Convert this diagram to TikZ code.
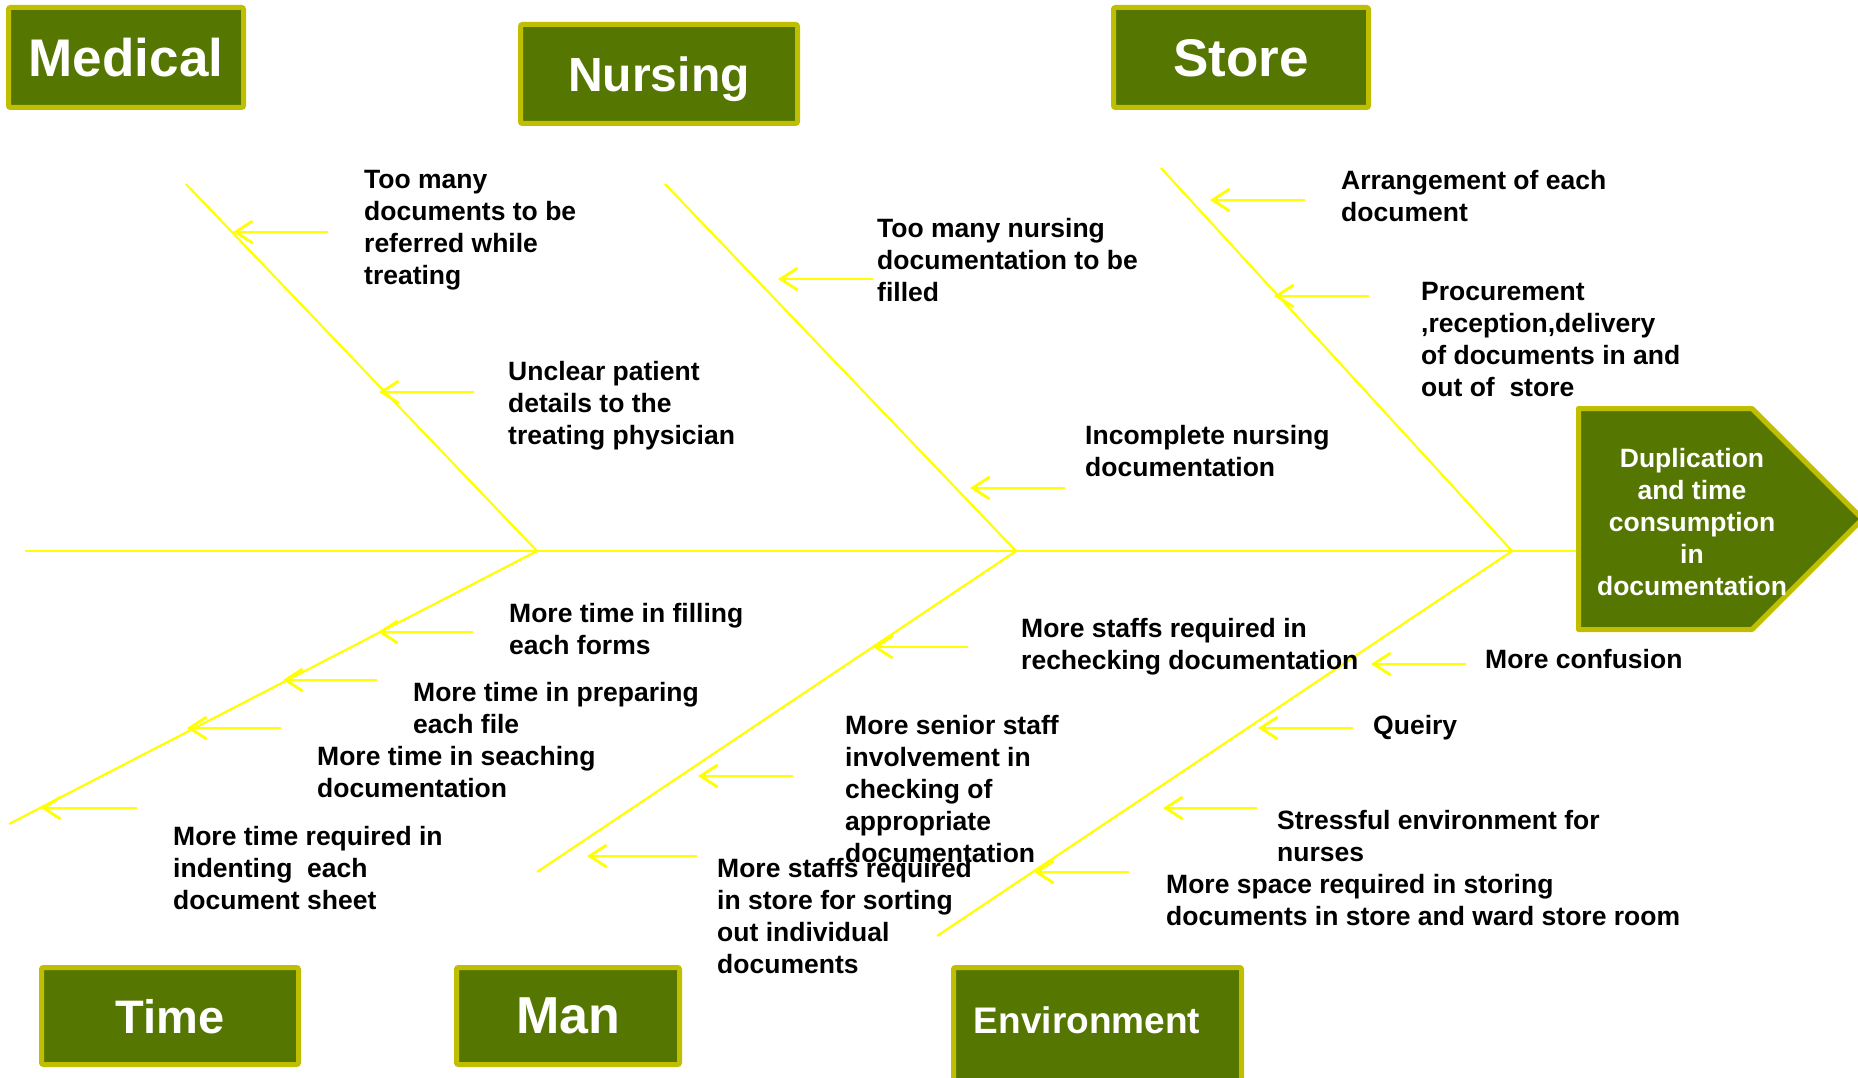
\documentclass[tikz,border=0pt]{standalone}
\usepackage{fontspec}
\setmainfont{Liberation Sans}
\usetikzlibrary{arrows.meta}
\definecolor{boxfill}{RGB}{85,118,0}
\definecolor{boxedge}{RGB}{192,190,0}
\definecolor{fishyellow}{RGB}{255,255,0}
\tikzset{
  catbox/.style={draw=boxedge, fill=boxfill, line width=5pt, rounded corners=2pt,
    text=white, inner sep=0pt, text depth=0pt},
  bone/.style={draw=fishyellow, line width=2.2pt},
  cause/.style={draw=fishyellow, line width=2.8pt, -{Straight Barb[length=17pt,width=22pt]}},
  lbl/.style={anchor=north west, align=left, inner sep=0pt,
    font=\bfseries\fontsize{26.5}{32}\selectfont},
}
\begin{document}
\begin{tikzpicture}[x=1pt, y=-1pt]
\clip (0,0) rectangle (1858,1078);
\fill[white] (0,0) rectangle (1858,1078);

% category boxes
\node[catbox, minimum width=235pt, minimum height=100pt, font=\bfseries\fontsize{53}{60}\selectfont] (medical) at (126,57.5) {Medical};
\node[catbox, minimum width=277pt, minimum height=99pt, font=\bfseries\fontsize{48}{56}\selectfont] (nursing) at (659,74) {Nursing};
\node[catbox, minimum width=255pt, minimum height=100pt, font=\bfseries\fontsize{53}{60}\selectfont] (store) at (1241,57.5) {Store};
\node[catbox, minimum width=257pt, minimum height=97pt, font=\bfseries\fontsize{47}{54}\selectfont] (time) at (170,1016) {Time};
\node[catbox, minimum width=223pt, minimum height=97pt, font=\bfseries\fontsize{52}{60}\selectfont] (man) at (568,1016) {Man};
\node[catbox, minimum width=288pt, minimum height=125pt] (env) at (1097.5,1030) {};
\node[text=white, inner sep=0pt, text depth=0pt, font=\bfseries\fontsize{37}{44}\selectfont] (envtitle) at (1087,1020) {Environment};

% effect (head)
\coordinate (hA) at (1578.5,408.5);
\coordinate (hB) at (1752,408.5);
\coordinate (hC) at (1862.5,519);
\coordinate (hD) at (1752,629.5);
\coordinate (hE) at (1578.5,629.5);
\filldraw[draw=boxedge, fill=boxfill, line width=5pt, line join=round] (hA) -- (hB) -- (hC) -- (hD) -- (hE) -- cycle;
\node[anchor=north, align=center, inner sep=0pt, text=white, font=\bfseries\fontsize{26.5}{32}\selectfont] (head) at (1692,448) {Duplication\\and time\\consumption\\in\\documentation};

% spine
\coordinate (tail) at (25,551);
\coordinate (neck) at (1576,551);
\draw[bone] (tail) -- (neck);

% bone junctions on the spine
\coordinate (j1) at (537,551);
\coordinate (j2) at (1016,551);
\coordinate (j3) at (1512,551);

% bones
\coordinate (bMed) at (186,184);
\coordinate (bNur) at (665,184);
\coordinate (bSto) at (1161,168);
\coordinate (bTim) at (9,824);
\coordinate (bMan) at (537,872);
\coordinate (bEnv) at (937,936);
\draw[bone] (bMed) -- (j1);
\draw[bone] (bNur) -- (j2);
\draw[bone] (bSto) -- (j3);
\draw[bone] (bTim) -- (j1);
\draw[bone] (bMan) -- (j2);
\draw[bone] (bEnv) -- (j3);

% cause arrows: tail coordinate -> tip coordinate
\foreach \n/\tx/\hx/\yy in {
  m1/328/233/232, m2/474/379/392,
  n1/873/778/279, n2/1065/970/488,
  s1/1305/1210/200, s2/1369/1274/296,
  t1/473/378/632, t2/377/283/680, t3/281/187/728, t4/137/41/808,
  a1/968/873/647, a2/793/698/776, a3/697/587/856,
  e1/1466/1371/664, e2/1353/1258/728, e3/1257/1163/808, e4/1129/1034/872}{
  \coordinate (\n t) at (\tx,\yy);
  \coordinate (\n h) at (\hx,\yy);
  \draw[cause] (\n t) -- (\n h);
}

% Medical causes
\node[lbl] (lm1) at (364,170) {Too many\\documents to be\\referred while\\treating};
\node[lbl] (lm2) at (508,361) {Unclear patient\\details to the\\treating physician};
% Nursing causes
\node[lbl] (ln1) at (877,218) {Too many nursing\\documentation to be\\filled};
\node[lbl] (ln2) at (1085,425) {Incomplete nursing\\documentation};
% Store causes
\node[lbl] (ls1) at (1341,170) {Arrangement of each\\document};
\node[lbl] (ls2) at (1421,282) {Procurement\\,reception,delivery\\of documents in and\\out of\ \ store};
% Time causes
\node[lbl] (lt1) at (509,603) {More time in filling\\each forms};
\node[lbl] (lt2) at (413,682) {More time in preparing\\each file};
\node[lbl] (lt3) at (317,746) {More time in seaching\\documentation};
\node[lbl] (lt4) at (173,826) {More time required in\\indenting\ \ each\\document sheet};
% Man causes
\node[lbl] (la1) at (1021,618) {More staffs required in\\rechecking documentation};
\node[lbl] (la2) at (845,715) {More senior staff\\involvement in\\checking of\\appropriate\\documentation};
\node[lbl] (la3) at (717,858) {More staffs required\\in store for sorting\\out individual\\documents};
% Environment causes
\node[lbl] (le1) at (1485,649) {More confusion};
\node[lbl] (le2) at (1373,715) {Queiry};
\node[lbl] (le3) at (1277,810) {Stressful environment for\\nurses};
\node[lbl] (le4) at (1166,874) {More space required in storing\\documents in store and ward store room};
\end{tikzpicture}
\end{document}
